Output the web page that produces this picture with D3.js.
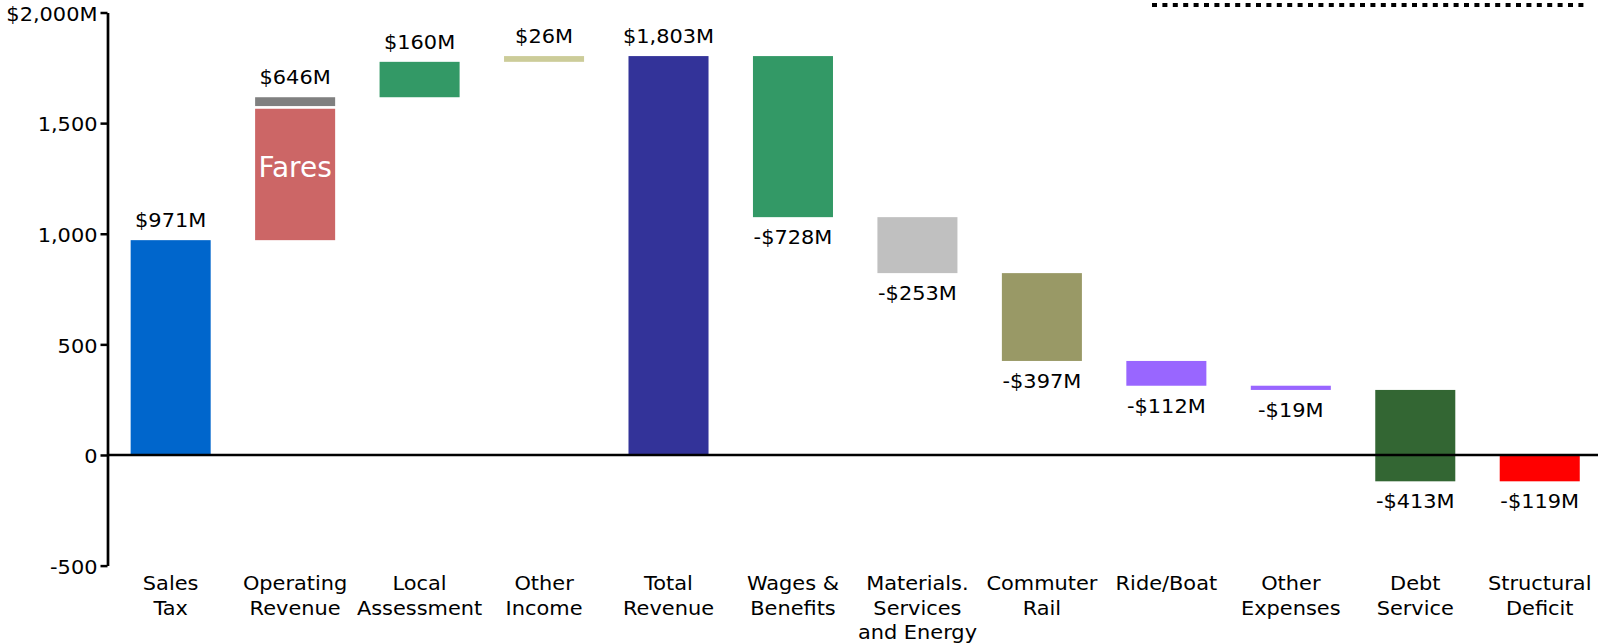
<!DOCTYPE html>
<html>
<head>
<meta charset="utf-8">
<script src="https://cdn.jsdelivr.net/npm/d3@7"></script>
<style>
  html, body { margin: 0; padding: 0; background: #fff; }
  svg { display: block; }
  text { font-family: "DejaVu Sans", Verdana, sans-serif; fill: #000; }
</style>
</head>
<body>
<svg id="chart" width="1598" height="644"></svg>
<script>
// Budget waterfall: revenue sources build up to the total, expenses step it down.
const categories = [
  ["Sales", "Tax"], ["Operating", "Revenue"], ["Local", "Assessment"], ["Other", "Income"],
  ["Total", "Revenue"], ["Wages &", "Benefits"], ["Materials.", "Services", "and Energy"],
  ["Commuter", "Rail"], ["Ride/Boat"], ["Other", "Expenses"], ["Debt", "Service"],
  ["Structural", "Deficit"]
];
const amounts = [971, 646, 160, 26, 1803, -728, -253, -397, -112, -19, -413, -119];
const isTotal = [false, false, false, false, true, false, false, false, false, false, false, true];
const valueLabels = ["$971M", "$646M", "$160M", "$26M", "$1,803M", "-$728M", "-$253M",
                     "-$397M", "-$112M", "-$19M", "-$413M", "-$119M"];
const barColors = ["#0066cc", "#cc6666", "#339966", "#cccc99", "#333399", "#339966",
                   "#c0c0c0", "#999966", "#9966ff", "#9966ff", "#336633", "#ff0000"];
// Operating revenue is split into fares and the remainder
const operatingParts = [600, 46];
const operatingPartNames = ["Fares", ""];
const operatingPartColors = ["#cc6666", "#808080"];
const yTicks = [-500, 0, 500, 1000, 1500, 2000];

const W = 1598, H = 644;
const svg = d3.select("#chart");
const sx = 1.1;              // horizontal stretch of the lettering
const fontSize = 19;

const y = d3.scaleLinear().domain([-500, 2000]).range([565.6, 12.5]);
const x = d3.scaleBand()
  .domain(d3.range(categories.length))
  .range([108, 1602.4])
  .paddingInner(0.357)
  .paddingOuter(0.182);

// running totals for the waterfall
let running = 0;
const bars = amounts.map((v, i) => {
  let start, end;
  if (isTotal[i]) { start = 0; end = v; running = v; }
  else { start = running; end = running + v; running = end; }
  return { i, v, start, end, lo: Math.min(start, end), hi: Math.max(start, end) };
});

const fmt = d3.formatLocale({ decimal: ".", thousands: ",", grouping: [3], currency: ["$", ""], minus: "-" }).format(",");

function label(g, px, py, str, opts = {}) {
  return g.append("text")
    .attr("transform", `translate(${px},${py}) scale(${opts.scale ?? sx},1)`)
    .attr("text-anchor", opts.anchor || "middle")
    .attr("font-size", opts.size || fontSize)
    .style("fill", opts.fill || "#000")
    .text(str);
}

const gBars = svg.append("g");
const segGap = 2.7;
bars.forEach(b => {
  const bx = x(b.i), bw = x.bandwidth();
  if (b.i === 1) {
    // stacked segments separated by a thin white gap
    let base = b.start;
    operatingParts.forEach((p, k) => {
      const top = base + p;
      const trimTop = k < operatingParts.length - 1 ? segGap / 2 : 0;
      const trimBottom = k > 0 ? segGap / 2 : 0;
      gBars.append("rect")
        .attr("x", bx).attr("width", bw)
        .attr("y", y(top) + trimTop)
        .attr("height", y(base) - y(top) - trimTop - trimBottom)
        .attr("fill", operatingPartColors[k]);
      if (operatingPartNames[k]) {
        gBars.append("text")
          .attr("x", bx + bw / 2)
          .attr("y", y((base + top) / 2) + 3)
          .attr("text-anchor", "middle")
          .attr("font-size", 28)
          .style("fill", "#fff")
          .text(operatingPartNames[k]);
      }
      base = top;
    });
  } else {
    gBars.append("rect")
      .attr("x", bx).attr("width", bw)
      .attr("y", y(b.hi))
      .attr("height", y(b.lo) - y(b.hi))
      .attr("fill", barColors[b.i]);
  }
});

// value labels: above rising bars, below falling bars
const gVals = svg.append("g");
bars.forEach(b => {
  const cx = x(b.i) + x.bandwidth() / 2;
  if (b.v >= 0) label(gVals, cx, y(b.hi) - 13, valueLabels[b.i]);
  else label(gVals, cx, y(b.lo) + 27, valueLabels[b.i]);
});

// y axis
const yAxis = d3.axisLeft(y)
  .tickValues(yTicks)
  .tickSize(7)
  .tickSizeOuter(0)
  .tickPadding(3)
  .tickFormat(d => d === 2000 ? "$" + fmt(d) + "M" : fmt(d));
const gAxis = svg.append("g").attr("transform", "translate(107.5,0)").call(yAxis);
gAxis.select(".domain").attr("stroke", "#000").attr("stroke-width", 2.7);
gAxis.selectAll(".tick line").attr("stroke", "#000").attr("stroke-width", 2.5);
gAxis.selectAll(".tick text")
  .attr("font-size", fontSize)
  .attr("font-family", "DejaVu Sans")
  .style("fill", "#000")
  .each(function () {
    const t = d3.select(this);
    const tx = +t.attr("x");
    t.attr("x", null).attr("dy", null)
      .attr("dominant-baseline", "central")
      .attr("transform", `translate(${tx},1) scale(${sx},1)`);
  });

// zero baseline across the chart
svg.append("line")
  .attr("x1", 107.5).attr("x2", W)
  .attr("y1", y(0)).attr("y2", y(0))
  .attr("stroke", "#000").attr("stroke-width", 2.7);

// category labels
const gCats = svg.append("g");
categories.forEach((lines, i) => {
  const cx = x(i) + x.bandwidth() / 2;
  lines.forEach((ln, k) => label(gCats, cx, 590 + k * 24.5, ln));
});

// dotted rule along the top right
svg.append("line")
  .attr("x1", 1152).attr("x2", 1588)
  .attr("y1", 5).attr("y2", 5)
  .attr("stroke", "#000").attr("stroke-width", 4)
  .attr("stroke-dasharray", "5,5.4");
</script>
</body>
</html>
